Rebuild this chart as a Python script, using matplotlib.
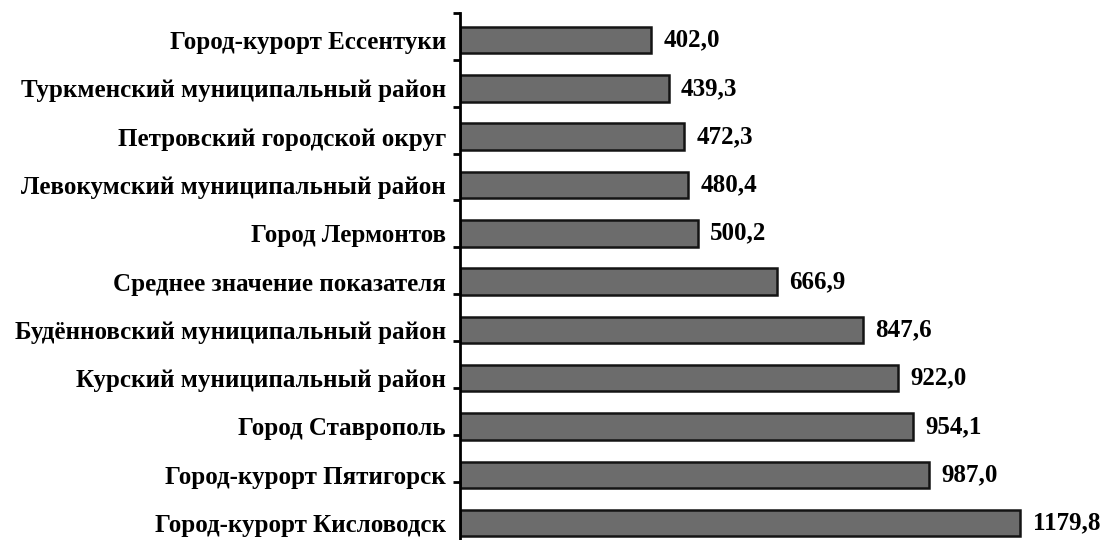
import numpy as np
import matplotlib
matplotlib.use("Agg")
import matplotlib.pyplot as plt

categories = [
    "Город-курорт Ессентуки",
    "Туркменский муниципальный район",
    "Петровский городской округ",
    "Левокумский муниципальный район",
    "Город Лермонтов",
    "Среднее значение показателя",
    "Будённовский муниципальный район",
    "Курский муниципальный район",
    "Город Ставрополь",
    "Город-курорт Пятигорск",
    "Город-курорт Кисловодск",
]
values = [402.0, 439.3, 472.3, 480.4, 500.2, 666.9, 847.6, 922.0, 954.1, 987.0, 1179.8]

plt.rcParams["font.family"] = ["Liberation Serif", "DejaVu Serif"]

fig = plt.figure(figsize=(11.03, 5.4), dpi=100)
ax = fig.add_axes([460 / 1103, 0.0, 1 - 460 / 1103, 1 - 13 / 540])

y = np.arange(len(categories))
ax.barh(y, values, height=0.55, color="#6c6c6c", edgecolor="#141414", linewidth=1.8)

for yi, v in zip(y, values):
    ax.text(v + 26, yi, f"{v:.1f}".replace(".", ","), va="center", ha="left",
            fontsize=18, fontweight="bold", color="black")

ax.set_xlim(0, 1354)
ax.set_ylim(len(categories) - 0.65, -0.56)
ax.set_yticks(y)
ax.set_yticklabels(categories, fontsize=18, fontweight="bold")
ax.tick_params(axis="y", which="major", length=0, pad=10)
# small outward ticks between the categories
ax.set_yticks(np.arange(len(categories)) * 0.97 - 0.56, minor=True)
ax.tick_params(axis="y", which="minor", length=5, width=2, direction="out")
ax.set_xticks([])

for side in ("top", "right", "bottom"):
    ax.spines[side].set_visible(False)
ax.spines["left"].set_linewidth(2)

fig.savefig("out.png", dpi=100)
